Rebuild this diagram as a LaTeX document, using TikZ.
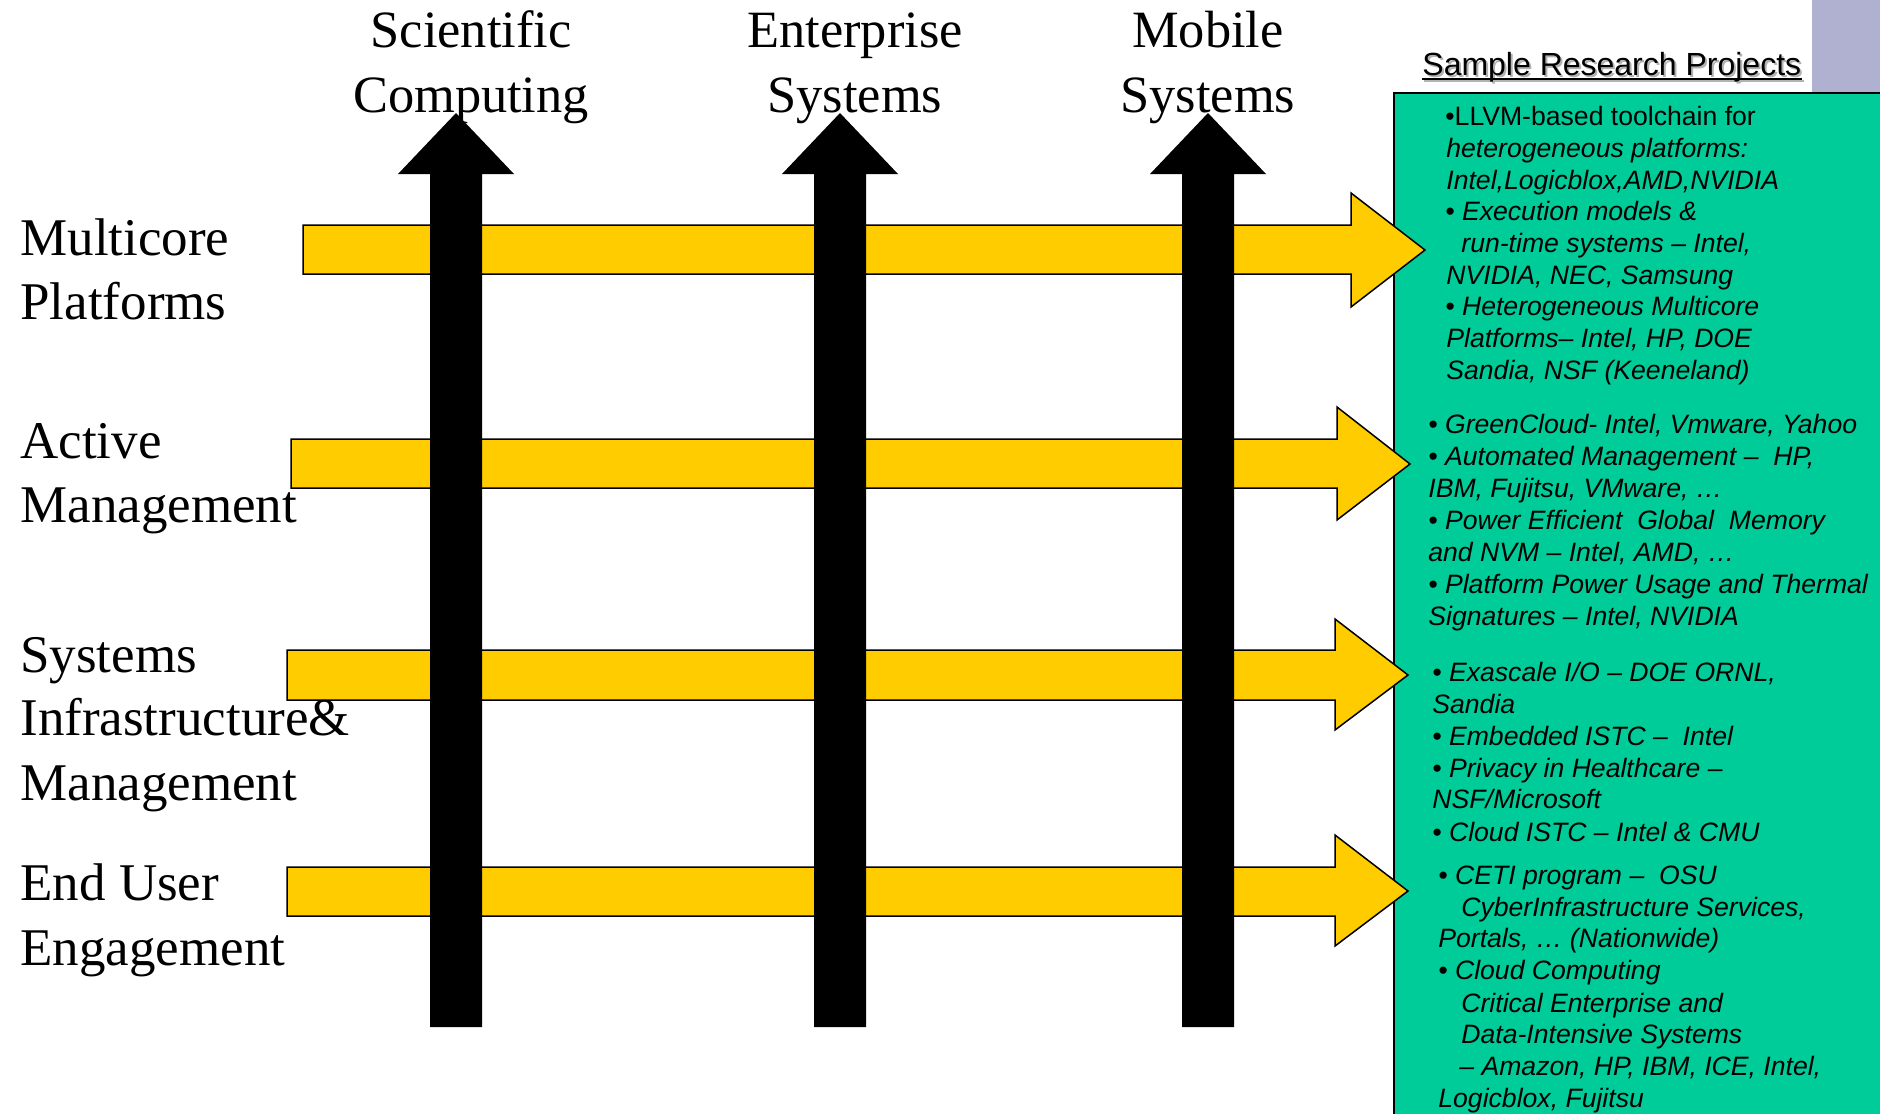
\documentclass[tikz,border=0pt]{standalone}
\usepackage{fontspec}
\setmainfont{Liberation Serif}
\newfontfamily\arialf{Liberation Sans}
\definecolor{ygold}{HTML}{FFCC00}
\definecolor{ggreen}{HTML}{00CC99}
\definecolor{lavend}{HTML}{B0B0D0}
\newcommand{\gline}[4]{\node[gtxt] (#1) at (#2,#3) {#4};}
\newcommand{\yarrow}[9]{%
  \fill[ygold,draw=black,line width=0.75pt,line join=miter] (#2,#3) -- (#5,#3) -- (#5,#6) -- (#8,#9) -- (#5,#7) -- (#5,#4) -- (#2,#4) -- cycle;
  \coordinate (#1) at (#8,#9);}
\newcommand{\barrow}[2]{%
  \fill[black] (#2-26,1027) -- (#2-26,174) -- (#2-58,174) -- (#2,113) -- (#2+58,174) -- (#2+26,174) -- (#2+26,1027) -- cycle;
  \coordinate (#1) at (#2,113);}
\begin{document}
\begin{tikzpicture}[x=0.5pt,y=-0.5pt,
  lbl/.style={font=\fontsize{26.5pt}{32pt}\selectfont,inner sep=0,anchor=base west},
  toplbl/.style={font=\fontsize{26.2pt}{32pt}\selectfont,inner sep=0,anchor=base},
  gtxt/.style={font=\arialf\itshape\fontsize{13.3pt}{16pt}\selectfont,inner sep=0,anchor=base west},
  gtxtup/.style={gtxt,font=\arialf\upshape\fontsize{13.3pt}{16pt}\selectfont}]
\useasboundingbox (0,0) rectangle (1880,1114);
\fill[white] (0,0) rectangle (1880,1114);
% right panel
\fill[lavend] (1812,0) rectangle (1880,93);
\fill[ggreen,draw=black,line width=0.9pt] (1394,93) rectangle (1884,1118);
% title with shadow
\node[font=\arialf\fontsize{16pt}{19pt}\selectfont,inner sep=0,anchor=base west,text=black!30] (srpsh) at (1424,77) {Sample Research Projects};
\draw[black!30,line width=1pt] ([yshift=-2pt]srpsh.base west) -- ([yshift=-2pt]srpsh.base east);
\node[font=\arialf\fontsize{16pt}{19pt}\selectfont,inner sep=0,anchor=base west] (srp) at (1422,75) {Sample Research Projects};
\draw[black,line width=1pt] ([yshift=-2pt]srp.base west) -- ([yshift=-2pt]srp.base east);
% yellow arrows
\yarrow{ya1}{303}{225}{274}{1351}{193}{307}{1425}{250}
\yarrow{ya2}{291}{439}{488}{1337}{407}{520}{1410}{464}
\yarrow{ya3}{287}{650}{700}{1335}{619}{730}{1408}{675}
\yarrow{ya4}{287}{867}{916}{1335}{835}{946}{1408}{891}
% black arrows
\barrow{ba1}{456}
\barrow{ba2}{840}
\barrow{ba3}{1208}
% top labels
\node[toplbl] (sc1) at (471,47) {Scientific};
\node[toplbl] (sc2) at (471,112) {Computing};
\node[toplbl] (en1) at (855,47) {Enterprise};
\node[toplbl] (en2) at (855,112) {Systems};
\node[toplbl] (mo1) at (1208,47) {Mobile};
\node[toplbl] (mo2) at (1208,112) {Systems};
% left labels
\node[lbl] (l1a) at (20,255) {Multicore};
\node[lbl] (l1b) at (20,319) {Platforms};
\node[lbl] (l2a) at (20,458) {Active};
\node[lbl] (l2b) at (20,522) {Management};
\node[lbl] (l3a) at (20,672) {Systems};
\node[lbl] (l3b) at (20,735) {Infrastructure\&};
\node[lbl] (l3c) at (20,800) {Management};
\node[lbl] (l4a) at (20,900) {End User};
\node[lbl] (l4b) at (20,965) {Engagement};
% green text, block 1
\node[gtxtup] (t1) at (1445,125) {•LLVM-based toolchain for};
\gline{t2}{1446}{157}{heterogeneous platforms:}
\gline{t3}{1446}{189}{Intel,Logicblox,AMD,NVIDIA}
\gline{t4}{1445}{220}{• Execution models \&}
\gline{t5}{1461}{252}{run-time systems – Intel,}
\gline{t6}{1446}{284}{NVIDIA, NEC, Samsung}
\gline{t7}{1445}{315}{• Heterogeneous Multicore}
\gline{t8}{1446}{347}{Platforms– Intel, HP, DOE}
\gline{t9}{1446}{379}{Sandia, NSF (Keeneland)}
% block 2
\gline{t10}{1428}{433}{• GreenCloud- Intel, Vmware, Yahoo}
\gline{t11}{1428}{465}{• Automated Management –\ \ HP,}
\gline{t12}{1428}{497}{IBM, Fujitsu, VMware, …}
\gline{t13}{1428}{529}{• Power Efficient\ \ Global\ \ Memory}
\gline{t14}{1428}{561}{and NVM – Intel, AMD, …}
\gline{t15}{1428}{593}{• Platform Power Usage and Thermal}
\gline{t16}{1428}{625}{Signatures – Intel, NVIDIA}
% block 3
\gline{t17}{1432}{681}{• Exascale I/O – DOE ORNL,}
\gline{t18}{1432}{713}{Sandia}
\gline{t19}{1432}{745}{• Embedded ISTC –\ \ Intel}
\gline{t20}{1432}{777}{• Privacy in Healthcare –}
\gline{t21}{1432}{808}{NSF/Microsoft}
\gline{t22}{1432}{841}{• Cloud ISTC – Intel \& CMU}
% block 4
\gline{t23}{1438}{884}{• CETI program –\ \ OSU}
\gline{t24}{1461}{916}{CyberInfrastructure Services,}
\gline{t25}{1438}{947}{Portals, … (Nationwide)}
\gline{t26}{1438}{979}{• Cloud Computing}
\gline{t27}{1461}{1012}{Critical Enterprise and}
\gline{t28}{1461}{1043}{Data-Intensive Systems}
\gline{t29}{1459}{1075}{– Amazon, HP, IBM, ICE, Intel,}
\gline{t30}{1438}{1107}{Logicblox, Fujitsu}
\end{tikzpicture}
\end{document}
